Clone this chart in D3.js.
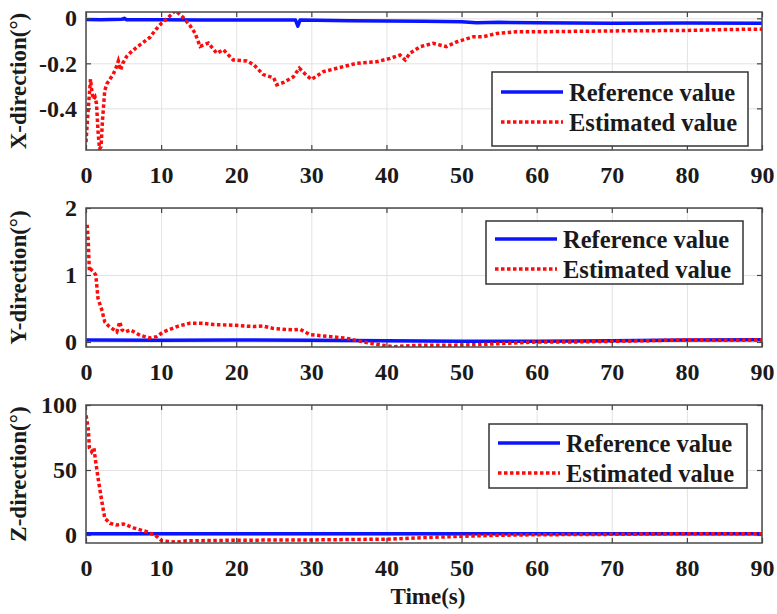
<!DOCTYPE html>
<html>
<head>
<meta charset="utf-8">
<script src="https://cdn.jsdelivr.net/npm/d3@7"></script>
<style>
  html, body { margin: 0; padding: 0; background: #ffffff; }
  svg { display: block; }
  svg text { font-family: "Liberation Serif", "Times New Roman", serif !important; font-weight: bold; fill: #1a1a1a; }
</style>
</head>
<body>
<svg id="chart" width="777" height="614"></svg>
<script>
// ---------------- data ----------------
const timeTicks = [0, 10, 20, 30, 40, 50, 60, 70, 80, 90];
const xTickValues = [-0.4, -0.2, 0];
const yTickValues = [0, 1, 2];
const zTickValues = [0, 50, 100];
const seriesNames = ["Reference value", "Estimated value"];
const panelLabels = ["X-direction(°)", "Y-direction(°)", "Z-direction(°)"];
const xAxisTitle = "Time(s)";

// X-direction: [time (s), angle (deg)]
const xReference = [[0,-0.005],[2,-0.006],[4.8,-0.004],[5.1,0.0],[5.4,-0.006],[10,-0.006],[15,-0.007],[20,-0.007],[25,-0.008],[27.9,-0.008],[28.2,-0.035],[28.5,-0.008],[35,-0.011],[40,-0.012],[45,-0.013],[50,-0.015],[52,-0.02],[55,-0.018],[60,-0.02],[70,-0.022],[80,-0.021],[90,-0.022]];
const xEstimated = [[0,-0.55],[0.2,-0.45],[0.4,-0.36],[0.6,-0.27],[0.8,-0.33],[1.0,-0.36],[1.2,-0.35],[1.4,-0.38],[1.6,-0.5],[1.8,-0.58],[2.0,-0.57],[2.2,-0.45],[2.5,-0.32],[2.8,-0.29],[3.2,-0.27],[3.6,-0.25],[4.0,-0.22],[4.3,-0.19],[4.6,-0.23],[4.9,-0.2],[5.4,-0.17],[6.0,-0.15],[6.7,-0.13],[7.5,-0.11],[8.5,-0.085],[9.3,-0.05],[10.1,-0.02],[11.0,0.005],[11.9,0.035],[12.9,0.005],[13.8,-0.03],[14.5,-0.065],[15.2,-0.125],[16.3,-0.11],[17.4,-0.155],[18.3,-0.14],[19.6,-0.185],[21.4,-0.19],[22.3,-0.205],[23.6,-0.25],[25.0,-0.265],[25.4,-0.295],[26.3,-0.285],[27.6,-0.26],[28.4,-0.222],[29.1,-0.245],[30.0,-0.272],[31.6,-0.237],[33.4,-0.222],[36.0,-0.2],[38.7,-0.193],[40.5,-0.178],[41.8,-0.163],[42.5,-0.185],[43.1,-0.156],[44.5,-0.126],[46.2,-0.111],[48.0,-0.126],[49.4,-0.104],[51.6,-0.082],[52.9,-0.082],[54.7,-0.067],[57.3,-0.06],[60,-0.06],[65,-0.058],[70,-0.056],[75,-0.055],[80,-0.054],[85,-0.05],[90,-0.048]];

// Y-direction
const yReference = [[0,0.03],[10,0.025],[20,0.03],[30,0.025],[40,0.02],[50,0.01],[60,0.01],[70,0.02],[80,0.03],[90,0.035]];
const yEstimated = [[0.15,1.75],[0.3,1.5],[0.45,1.05],[0.7,1.08],[1.0,1.05],[1.3,1.0],[1.6,0.65],[2.1,0.48],[2.5,0.3],[3.0,0.24],[3.5,0.2],[4.1,0.15],[4.5,0.3],[4.8,0.18],[5.2,0.15],[5.9,0.18],[7.2,0.1],[8.5,0.06],[9.4,0.08],[10.3,0.15],[12.1,0.23],[13.8,0.28],[15.5,0.28],[17,0.26],[19.6,0.25],[22.3,0.23],[23.5,0.24],[25,0.2],[27.6,0.18],[28.5,0.19],[29.8,0.11],[32.5,0.08],[34.7,0.055],[37.4,-0.01],[39.6,-0.05],[41,-0.07],[44,-0.05],[48,-0.05],[52,-0.04],[56,-0.02],[60,0.0],[65,0.0],[70,0.01],[75,0.02],[80,0.03],[85,0.025],[90,0.03]];

// Z-direction
const zReference = [[0,1],[30,1],[60,1],[90,1]];
const zEstimated = [[0,92],[0.3,82],[0.45,67],[0.75,64],[1.05,67],[1.3,56],[1.6,44],[2.1,26],[2.5,13],[3.2,9],[4.1,7.7],[5.0,8.5],[6.3,5.5],[8.1,2.5],[9.2,0],[10.1,-4.5],[12.1,-5.5],[13.4,-4.5],[20,-4],[30,-3.8],[40,-3.2],[45,-2],[50,-1],[55,-0.2],[60,0.2],[70,0.5],[80,1],[90,1]];

// ---------------- layout ----------------
const svg = d3.select("#chart");
const plotLeft = 86, plotRight = 762;
const FONT = '"Liberation Serif", "Times New Roman", serif';
const fontTick = 24, fontLegend = 24.5, fontLabel = 23;

const panels = [
  { top: 12,  bottom: 150, domain: [-0.585, 0.028], ticks: xTickValues, fmt: d => d === 0 ? "0" : d3.format(".1f")(d).replace("−", "-"),
    label: panelLabels[0], ref: xReference, est: xEstimated, legend: { x: 492, y: 72, w: 256, h: 74, r1: 20, r2: 50 } },
  { top: 208, bottom: 347, domain: [-0.075, 2], ticks: yTickValues, fmt: d => String(d),
    label: panelLabels[1], ref: yReference, est: yEstimated, legend: { x: 486, y: 221, w: 257, h: 63, r1: 18, r2: 48 } },
  { top: 405, bottom: 543, domain: [-6.15, 100], ticks: zTickValues, fmt: d => String(d),
    label: panelLabels[2], ref: zReference, est: zEstimated, legend: { x: 489, y: 424, w: 258, h: 64, r1: 19, r2: 49 } }
];

const x = d3.scaleLinear().domain([0, 90]).range([plotLeft, plotRight]);

panels.forEach((p, i) => {
  const y = d3.scaleLinear().domain(p.domain).range([p.bottom, p.top]);
  const h = p.bottom - p.top, w = plotRight - plotLeft;
  const g = svg.append("g");
  const clipId = "clip" + i;
  svg.append("clipPath").attr("id", clipId).append("rect")
    .attr("x", plotLeft).attr("y", p.top).attr("width", w).attr("height", h);

  // grid
  const gx = g.append("g").attr("transform", `translate(0,${p.bottom})`)
    .call(d3.axisBottom(x).tickValues(timeTicks).tickSize(-h).tickFormat(""));
  const gy = g.append("g").attr("transform", `translate(${plotLeft},0)`)
    .call(d3.axisLeft(y).tickValues(p.ticks).tickSize(-w).tickFormat(""));
  [gx, gy].forEach(a => {
    a.select(".domain").remove();
    a.selectAll(".tick line").attr("stroke", "#e2e2e2").attr("stroke-width", 1);
  });

  // lines
  const line = d3.line().x(d => x(d[0])).y(d => y(d[1]));
  const lg = g.append("g").attr("clip-path", `url(#${clipId})`);
  lg.append("path").datum(p.ref).attr("d", line)
    .attr("fill", "none").attr("stroke", "#0a14ff").attr("stroke-width", 3.5)
    .attr("stroke-linejoin", "round");
  lg.append("path").datum(p.est).attr("d", line)
    .attr("fill", "none").attr("stroke", "#ff0a0a").attr("stroke-width", 3.5)
    .attr("stroke-dasharray", "3.5,2.5");

  // axes with inward ticks
  const styleAxis = a => {
    a.attr("font-family", FONT).attr("font-size", fontTick).attr("font-weight", "bold");
    a.select(".domain").remove();
    a.selectAll(".tick line").attr("stroke", "#444").attr("stroke-width", 1.2);
    a.selectAll("text").attr("fill", "#1a1a1a");
  };
  g.append("g").attr("transform", `translate(0,${p.bottom})`)
    .call(d3.axisBottom(x).tickValues(timeTicks).tickSize(-5).tickPadding(16).tickFormat(d3.format("d")))
    .call(styleAxis);
  g.append("g").attr("transform", `translate(0,${p.top})`)
    .call(d3.axisTop(x).tickValues(timeTicks).tickSize(-5).tickFormat(""))
    .call(styleAxis);
  g.append("g").attr("transform", `translate(${plotLeft},0)`)
    .call(d3.axisLeft(y).tickValues(p.ticks).tickSize(-5).tickPadding(9).tickFormat(p.fmt))
    .call(styleAxis);
  g.append("g").attr("transform", `translate(${plotRight},0)`)
    .call(d3.axisRight(y).tickValues(p.ticks).tickSize(-5).tickFormat(""))
    .call(styleAxis);

  // box
  g.append("rect").attr("x", plotLeft).attr("y", p.top).attr("width", w).attr("height", h)
    .attr("fill", "none").attr("stroke", "#4a4a4a").attr("stroke-width", 1.5);

  // y label
  g.append("text")
    .attr("transform", `translate(26,${(p.top + p.bottom) / 2}) rotate(-90)`)
    .attr("text-anchor", "middle")
    .attr("font-size", fontLabel)
    .text(p.label);

  // legend
  const L = p.legend;
  const lgd = g.append("g");
  lgd.append("rect").attr("x", L.x).attr("y", L.y).attr("width", L.w).attr("height", L.h)
    .attr("fill", "#fff").attr("stroke", "#333").attr("stroke-width", 1.5);
  const rows = [
    { name: seriesNames[0], color: "#0a14ff", dash: null, dy: L.r1 },
    { name: seriesNames[1], color: "#ff0a0a", dash: "3.5,2.5", dy: L.r2 }
  ];
  rows.forEach(r => {
    lgd.append("line").attr("x1", L.x + 9).attr("x2", L.x + 71)
      .attr("y1", L.y + r.dy).attr("y2", L.y + r.dy)
      .attr("stroke", r.color).attr("stroke-width", 3.5)
      .attr("stroke-dasharray", r.dash);
    lgd.append("text").attr("x", L.x + 77).attr("y", L.y + r.dy)
      .attr("dominant-baseline", "central")
      .attr("font-size", fontLegend)
      .text(r.name);
  });
});

// x-axis title
svg.append("text").attr("x", (plotLeft + plotRight) / 2 + 4).attr("y", 604)
  .attr("text-anchor", "middle").attr("font-size", 23).text(xAxisTitle);
</script>
</body>
</html>
